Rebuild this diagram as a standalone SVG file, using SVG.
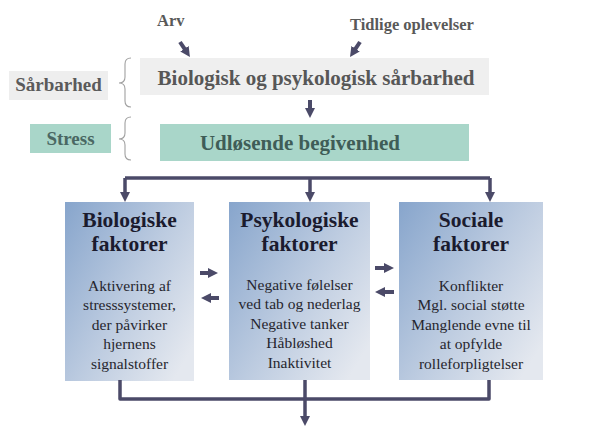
<svg xmlns="http://www.w3.org/2000/svg" width="595" height="427" viewBox="0 0 595 427">
  <style>
    .lbl { font-family: 'Liberation Serif', 'DejaVu Serif', serif; font-weight: bold; }
    .top { font-size: 16.5px; fill: #595959; }
    .gtx { font-size: 21px; fill: #575757; }
    .side { font-size: 19px; fill: #5a5a5a; }
    .grn { font-size: 21px; fill: #3f5d57; }
    .stx { font-size: 19px; fill: #4a6863; }
    .title { font-family: 'Liberation Serif', 'DejaVu Serif', serif; font-weight: bold; font-size: 21.5px; fill: #1b1b2e; text-anchor: middle; }
    .body { font-family: 'Liberation Serif', 'DejaVu Serif', serif; font-size: 15.5px; fill: #26262e; text-anchor: middle; }
    .conn { fill: none; stroke: #4b4a68; stroke-width: 3.5; stroke-linejoin: round; }
    .sm { fill: none; stroke: #4b4a68; stroke-width: 4; }
    .brace { fill: none; stroke: #a0a0a0; stroke-width: 1.1; }
    .fbox { fill: url(#boxg); }
  </style>
  <defs>
    <linearGradient id="boxg" x1="0" y1="0" x2="1" y2="0.8">
      <stop offset="0" stop-color="#87a5cc"/>
      <stop offset="0.55" stop-color="#bccbe0"/>
      <stop offset="1" stop-color="#e4e8ef"/>
    </linearGradient>
    <marker id="ah" viewBox="0 0 10 10" refX="3" refY="5" markerWidth="10" markerHeight="10" markerUnits="userSpaceOnUse" orient="auto">
      <path d="M0,0 L10,5 L0,10 z" fill="#4b4a68"/>
    </marker>
  </defs>

  <rect width="595" height="427" fill="#ffffff"/>

  <g id="arv"><text class="lbl top" x="157" y="26">Arv</text></g>
  <g id="tidlige"><text class="lbl top" x="350" y="29.5">Tidlige oplevelser</text></g>

  <g id="saarbarhed-label">
    <rect x="9" y="71" width="99" height="29" fill="#eeeeee"/>
    <text class="lbl side" x="58.5" y="91" text-anchor="middle">Sårbarhed</text>
  </g>
  <g id="stress-label">
    <rect x="30" y="124" width="81" height="29" fill="#a9d6c9"/>
    <text class="lbl stx" x="70.5" y="145" text-anchor="middle">Stress</text>
  </g>

  <g id="braces">
    <path class="brace" d="M131,58 Q125,58 125,64 L125,77 Q125,83 119,83 Q125,83 125,89 L125,101 Q125,107 131,107"/>
    <path class="brace" d="M131,117 Q125,117 125,123 L125,133 Q125,139 119,139 Q125,139 125,145 L125,154 Q125,160 131,160"/>
  </g>

  <g id="vulnerability">
    <rect x="140" y="58" width="349" height="37" fill="#efefef"/>
    <text class="lbl gtx" x="316" y="85" text-anchor="middle">Biologisk og psykologisk sårbarhed</text>
  </g>

  <g id="trigger">
    <rect x="160" y="124" width="309" height="37" fill="#a9d6c9"/>
    <text class="lbl grn" x="300" y="150" text-anchor="middle">Udløsende begivenhed</text>
  </g>

  <g id="bio">
    <rect class="fbox" x="65" y="202" width="129" height="179"/>
    <text class="title" x="129.5" y="227">Biologiske</text>
    <text class="title" x="129.5" y="251">faktorer</text>
    <text class="body" x="129.5" y="290.5">Aktivering af</text>
    <text class="body" x="129.5" y="310">stresssystemer,</text>
    <text class="body" x="129.5" y="329.5">der påvirker</text>
    <text class="body" x="129.5" y="349">hjernens</text>
    <text class="body" x="129.5" y="368.5">signalstoffer</text>
  </g>

  <g id="psych">
    <rect class="fbox" x="229" y="202" width="141" height="178"/>
    <text class="title" x="299.5" y="227">Psykologiske</text>
    <text class="title" x="299.5" y="251">faktorer</text>
    <text class="body" x="299.5" y="289.5">Negative følelser</text>
    <text class="body" x="299.5" y="309">ved tab og nederlag</text>
    <text class="body" x="299.5" y="328.5">Negative tanker</text>
    <text class="body" x="299.5" y="348">Håbløshed</text>
    <text class="body" x="299.5" y="367.5">Inaktivitet</text>
  </g>

  <g id="social">
    <rect class="fbox" x="399" y="202" width="144" height="178"/>
    <text class="title" x="471" y="227">Sociale</text>
    <text class="title" x="471" y="251">faktorer</text>
    <text class="body" x="471" y="290.5">Konflikter</text>
    <text class="body" x="471" y="310">Mgl. social støtte</text>
    <text class="body" x="471" y="329.5">Manglende evne til</text>
    <text class="body" x="471" y="349">at opfylde</text>
    <text class="body" x="471" y="368.5">rolleforpligtelser</text>
  </g>

  <g id="connectors">
    <path class="sm" d="M180,42 L186.1,51.2" marker-end="url(#ah)"/>
    <path class="sm" d="M360,42 L353.9,51.2" marker-end="url(#ah)"/>
    <path class="sm" d="M310,100 V111" marker-end="url(#ah)"/>

    <path class="conn" d="M125,178 H490"/>
    <path class="conn" d="M125,178 V195" marker-end="url(#ah)"/>
    <path class="conn" d="M310,178 V195" marker-end="url(#ah)"/>
    <path class="conn" d="M490,178 V195" marker-end="url(#ah)"/>

    <path class="sm" d="M200,273 H211" marker-end="url(#ah)"/>
    <path class="sm" d="M219,298 H208" marker-end="url(#ah)"/>
    <path class="sm" d="M375,268 H387" marker-end="url(#ah)"/>
    <path class="sm" d="M394,292 H382" marker-end="url(#ah)"/>

    <path class="conn" d="M120,380 V399 H489 V380"/>
    <path class="conn" d="M305,380 V419" marker-end="url(#ah)"/>
  </g>
</svg>
